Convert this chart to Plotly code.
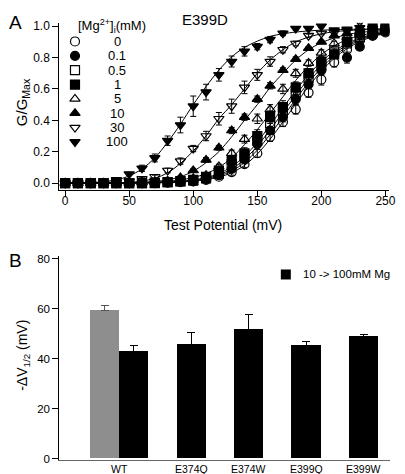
import plotly.graph_objects as go

# ---------------- Panel A data ----------------
test_potential = [0, 10, 20, 30, 40, 50, 60, 70, 80, 90, 100, 110, 120,
                  130, 140, 150, 160, 170, 180, 190, 200, 210, 220, 230, 240, 250]

mg_levels = ["0", "0.1", "0.5", "1", "5", "10", "30", "100"]
mg_symbols = ["circle-open", "circle", "square-open", "square",
              "triangle-up-open", "triangle-up", "triangle-down-open", "triangle-down"]

g_0 = [0, 0, 0, 0, 0, 0, 0, 0, 0.003, 0.005, 0.01, 0.02, 0.04, 0.07, 0.12, 0.19, 0.295,
       0.39, 0.47, 0.577, 0.66, 0.77, 0.85, 0.91, 0.94, 0.96]
g_01 = [0, 0, 0, 0, 0, 0, 0, 0, 0.005, 0.008, 0.012, 0.025, 0.05, 0.09, 0.15, 0.25, 0.335,
        0.42, 0.535, 0.63, 0.72, 0.82, 0.80, 0.87, 0.94, 0.965]
g_05 = [0, 0, 0, 0, 0, 0, 0, 0, 0.005, 0.01, 0.015, 0.03, 0.06, 0.12, 0.17, 0.27, 0.38,
        0.46, 0.57, 0.67, 0.75, 0.84, 0.89, 0.93, 0.96, 0.975]
g_1 = [0, 0, 0, 0, 0, 0, 0, 0.003, 0.006, 0.012, 0.02, 0.04, 0.08, 0.147, 0.19, 0.30, 0.42,
       0.485, 0.61, 0.70, 0.775, 0.82, 0.90, 0.955, 0.985, 0.985]
g_5 = [0, 0, 0, 0, 0, 0, 0.003, 0.006, 0.01, 0.02, 0.03, 0.05, 0.105, 0.19, 0.28, 0.41, 0.47,
       0.60, 0.70, 0.765, 0.83, 0.89, 0.93, 0.95, 0.97, 0.98]
g_10 = [0, 0, 0, 0, 0, 0.003, 0.006, 0.01, 0.015, 0.035, 0.08, 0.147, 0.225, 0.335, 0.42,
        0.535, 0.62, 0.72, 0.79, 0.86, 0.90, 0.94, 0.955, 0.96, 0.97, 0.975]
g_30 = [0, 0, 0, 0, 0.005, 0.01, 0.027, 0.04, 0.08, 0.14, 0.22, 0.30, 0.41, 0.49, 0.61,
        0.69, 0.775, 0.85, 0.89, 0.94, 0.955, 0.96, 0.97, 1.03, 0.985, 0.975]
g_100 = [0, 0, 0, 0.005, 0.02, 0.057, 0.094, 0.16, 0.27, 0.37, 0.49, 0.58, 0.69, 0.775,
         0.84, 0.87, 0.915, 0.955, 0.985, 0.985, 1.0, 0.975, 0.98, 0.99, 0.97, 0.975]

e_0 = [0, 0, 0, 0, 0, 0, 0, 0, 0.003, 0.005, 0.008, 0.01, 0.015, 0.02, 0.02, 0.025, 0.03,
       0.03, 0.03, 0.03, 0.035, 0.03, 0.025, 0.02, 0.015, 0.01]
e_01 = [0, 0, 0, 0, 0, 0, 0, 0, 0.003, 0.005, 0.008, 0.01, 0.015, 0.02, 0.02, 0.025, 0.025,
        0.03, 0.03, 0.03, 0.03, 0.025, 0.035, 0.025, 0.015, 0.01]
e_05 = [0, 0, 0, 0, 0, 0, 0, 0, 0.003, 0.005, 0.008, 0.01, 0.015, 0.02, 0.025, 0.03, 0.03,
        0.03, 0.03, 0.025, 0.025, 0.02, 0.02, 0.015, 0.01, 0.01]
e_1 = [0, 0, 0, 0, 0, 0, 0.002, 0.004, 0.005, 0.008, 0.01, 0.015, 0.02, 0.03, 0.035, 0.04,
       0.04, 0.04, 0.035, 0.03, 0.03, 0.025, 0.02, 0.015, 0.01, 0.01]
e_5 = [0, 0, 0, 0, 0, 0, 0.003, 0.005, 0.005, 0.01, 0.01, 0.01, 0.015, 0.02, 0.025, 0.03,
       0.03, 0.03, 0.025, 0.02, 0.02, 0.015, 0.01, 0.01, 0.01, 0.01]
e_10 = [0, 0, 0, 0, 0, 0.003, 0.005, 0.005, 0.01, 0.01, 0.01, 0.015, 0.015, 0.02, 0.02,
        0.02, 0.02, 0.015, 0.015, 0.01, 0.01, 0.01, 0.01, 0.01, 0.01, 0.01]
e_30 = [0, 0, 0, 0, 0.003, 0.005, 0.01, 0.01, 0.015, 0.02, 0.02, 0.03, 0.04, 0.045, 0.04,
        0.035, 0.03, 0.02, 0.015, 0.01, 0.01, 0.01, 0.01, 0.015, 0.01, 0.01]
e_100 = [0, 0, 0, 0.003, 0.005, 0.01, 0.02, 0.025, 0.03, 0.05, 0.065, 0.05, 0.04, 0.035,
         0.03, 0.02, 0.02, 0.015, 0.01, 0.01, 0.01, 0.01, 0.01, 0.01, 0.01, 0.01]

# Boltzmann fit curves at each test potential
c_0 = [0, 0, 0, 0, 0, 0, 0.001, 0.002, 0.004, 0.007, 0.012, 0.021, 0.037, 0.066, 0.112,
       0.185, 0.28, 0.39, 0.505, 0.615, 0.715, 0.795, 0.857, 0.902, 0.934, 0.954]
c_01 = [0, 0, 0, 0, 0, 0, 0.001, 0.002, 0.004, 0.008, 0.014, 0.025, 0.044, 0.078, 0.13,
        0.21, 0.31, 0.42, 0.535, 0.64, 0.735, 0.81, 0.868, 0.91, 0.94, 0.957]
c_05 = [0, 0, 0, 0, 0, 0, 0.001, 0.003, 0.005, 0.009, 0.017, 0.03, 0.052, 0.09, 0.15,
        0.235, 0.34, 0.45, 0.56, 0.665, 0.755, 0.825, 0.88, 0.918, 0.944, 0.96]
c_1 = [0, 0, 0, 0, 0, 0.001, 0.002, 0.004, 0.006, 0.01, 0.02, 0.035, 0.06, 0.105, 0.17,
       0.26, 0.37, 0.48, 0.59, 0.69, 0.775, 0.84, 0.89, 0.925, 0.948, 0.962]
c_5 = [0, 0, 0, 0, 0, 0.001, 0.003, 0.006, 0.01, 0.02, 0.035, 0.06, 0.1, 0.16, 0.245,
       0.34, 0.445, 0.55, 0.655, 0.745, 0.82, 0.875, 0.915, 0.94, 0.957, 0.967]
c_10 = [0, 0, 0, 0, 0.001, 0.002, 0.005, 0.01, 0.02, 0.04, 0.075, 0.13, 0.2, 0.295, 0.4,
        0.5, 0.61, 0.7, 0.785, 0.85, 0.895, 0.925, 0.947, 0.96, 0.968, 0.973]
c_30 = [0, 0, 0, 0.001, 0.002, 0.005, 0.012, 0.03, 0.065, 0.125, 0.205, 0.3, 0.41, 0.5,
        0.6, 0.7, 0.785, 0.85, 0.9, 0.93, 0.952, 0.965, 0.972, 0.977, 0.98, 0.982]
c_100 = [0, 0.001, 0.003, 0.008, 0.02, 0.045, 0.09, 0.16, 0.26, 0.375, 0.5, 0.615, 0.72,
         0.805, 0.865, 0.905, 0.935, 0.952, 0.963, 0.97, 0.975, 0.978, 0.98, 0.981,
         0.982, 0.982]

g_series = [g_0, g_01, g_05, g_1, g_5, g_10, g_30, g_100]
e_series = [e_0, e_01, e_05, e_1, e_5, e_10, e_30, e_100]
c_series = [c_0, c_01, c_05, c_1, c_5, c_10, c_30, c_100]

# ---------------- Panel B data ----------------
groups = ["WT", "E374Q", "E374W", "E399Q", "E399W"]
dv_10_100 = [43.1, 45.9, 51.8, 45.4, 48.8]
dv_10_100_err = [2.1, 4.5, 5.9, 1.7, 0.9]
wt_gray = [59.4]
wt_gray_err = [2.0]
legend_b_label = "10 -> 100mM Mg"

FONT = "Liberation Sans, Arial, sans-serif"
W, H = 405, 474
ROW0, ROWSTEP = 31, 14.6   # legend row layout (pixels)
MSIZE = 9


def py(p):
    return (H - p) / H


def px(p):
    return p / W


def row_of(p):
    return (p - ROW0) / ROWSTEP


fig = go.Figure()

# curves
for c in c_series:
    fig.add_trace(go.Scatter(x=test_potential, y=c, mode="lines",
                             line=dict(color="black", width=1, shape="spline", smoothing=0.8),
                             xaxis="x", yaxis="y", showlegend=False, hoverinfo="skip"))
# points
for g, e, sym in zip(g_series, e_series, mg_symbols):
    fig.add_trace(go.Scatter(x=test_potential, y=g, mode="markers",
                             marker=dict(symbol=sym, size=MSIZE, color="black",
                                         line=dict(color="black", width=1.2)),
                             error_y=dict(type="data", array=e, color="black",
                                          thickness=1, width=3),
                             xaxis="x", yaxis="y", showlegend=False))

# legend of panel A on helper axes (row index)
rows = list(range(len(mg_levels)))
for r, sym in zip(rows, mg_symbols):
    fig.add_trace(go.Scatter(x=[px(68)], y=[r], mode="markers",
                             marker=dict(symbol=sym, size=MSIZE, color="black",
                                         line=dict(color="black", width=1.2)),
                             xaxis="x3", yaxis="y3", showlegend=False, hoverinfo="skip"))
# legend key of panel B
fig.add_trace(go.Scatter(x=[px(282)], y=[row_of(268)], mode="markers",
                         marker=dict(symbol="square", size=10, color="black"),
                         xaxis="x3", yaxis="y3", showlegend=False, hoverinfo="skip"))

# bars panel B
black_pos = [i + 1 for i in range(len(groups))]
bar_w = 0.51
gray_pos = [black_pos[0] - bar_w]
fig.add_trace(go.Bar(x=gray_pos, y=wt_gray, width=bar_w,
                     marker=dict(color="#8e8e8e", line=dict(width=0)),
                     error_y=dict(type="data", symmetric=False, array=wt_gray_err, arrayminus=[0],
                                  color="#555555", thickness=1, width=4),
                     xaxis="x2", yaxis="y2", showlegend=False))
fig.add_trace(go.Bar(x=black_pos, y=dv_10_100, width=bar_w,
                     marker=dict(color="black", line=dict(width=0)),
                     error_y=dict(type="data", symmetric=False, array=dv_10_100_err,
                                  arrayminus=[0] * len(groups), color="black", thickness=1, width=4),
                     name=legend_b_label, xaxis="x2", yaxis="y2", showlegend=False))

tick_pos_b = [(gray_pos[0] + black_pos[0]) / 2] + black_pos[1:]

axis_common = dict(showgrid=False, zeroline=False, showline=True, linecolor="black",
                   linewidth=1, tickcolor="black", tickwidth=1,
                   tickfont=dict(family=FONT, size=12, color="black"))

fig.update_layout(
    width=W, height=H, margin=dict(l=0, r=0, t=0, b=0),
    paper_bgcolor="white", plot_bgcolor="rgba(0,0,0,0)",
    font=dict(family=FONT, color="black"),
    bargap=0, showlegend=False,
    xaxis=dict(domain=[px(52), px(387)], range=[-4.6, 253], anchor="y",
               tickvals=[0, 50, 100, 150, 200, 250], ticks="outside", ticklen=6,
               ticklabelstandoff=-6, **axis_common),
    yaxis=dict(domain=[py(182), py(12)], range=[-0.044, 1.022], anchor="x",
               tickvals=[0, 0.2, 0.4, 0.6, 0.8, 1.0], tickformat=".1f",
               ticks="outside", ticklen=6, **axis_common),
    xaxis2=dict(domain=[px(52), px(388)], range=[-0.3, 5.46], anchor="y2",
                tickvals=tick_pos_b, showticklabels=False, ticks="",
                showgrid=False, zeroline=False, showline=True, linecolor="#666666", linewidth=1),
    yaxis2=dict(domain=[py(457), py(249.7)], range=[-0.6, 81], anchor="x2",
                tickvals=[0, 20, 40, 60, 80], ticks="outside", ticklen=6,
                showgrid=False, zeroline=False, showline=True, linecolor="black", linewidth=1,
                tickcolor="black", tickfont=dict(family=FONT, size=11.5, color="black")),
    xaxis3=dict(domain=[0, 1], range=[0, 1], anchor="y3", visible=False, fixedrange=True),
    yaxis3=dict(domain=[0, 1], range=[row_of(H), row_of(0)], anchor="x3",
                visible=False, fixedrange=True),
)

ann = []
for r, lab in zip(rows, mg_levels):
    ann.append(dict(x=px(111), y=r, xref="x3", yref="y3", text=lab, showarrow=False,
                    xanchor="center", yanchor="middle", font=dict(size=13)))
ann.append(dict(x=px(106), y=row_of(15), xref="x3", yref="y3",
                text="[Mg<sup>2+</sup>]<sub>i</sub>(mM)", showarrow=False,
                xanchor="center", yanchor="middle", font=dict(size=13)))
ann.append(dict(x=px(297), y=row_of(268), xref="x3", yref="y3", text=legend_b_label,
                showarrow=False, xanchor="left", yanchor="middle", font=dict(size=11.5)))
for tp, lab in zip(tick_pos_b, groups):
    ann.append(dict(x=tp, y=py(466), xref="x2", yref="paper", text=lab, showarrow=False,
                    xanchor="center", yanchor="middle", font=dict(size=10.5)))
ann += [
    dict(x=px(8), y=py(12), xref="paper", yref="paper", text="A", showarrow=False,
         xanchor="center", yanchor="middle", font=dict(size=19)),
    dict(x=px(8), y=py(254), xref="paper", yref="paper", text="B", showarrow=False,
         xanchor="center", yanchor="middle", font=dict(size=19)),
    dict(x=px(200), y=py(9), xref="paper", yref="paper", text="E399D", showarrow=False,
         xanchor="center", yanchor="middle", font=dict(size=15)),
    dict(x=px(15), y=py(93), xref="paper", yref="paper", text="G/G<sub>Max</sub>",
         showarrow=False, textangle=-90, xanchor="center", yanchor="middle", font=dict(size=15)),
    dict(x=px(218), y=py(218), xref="paper", yref="paper", text="Test Potential (mV)",
         showarrow=False, xanchor="center", yanchor="middle", font=dict(size=14)),
    dict(x=px(15), y=py(350), xref="paper", yref="paper", text="-ΔV<sub>1/2</sub> (mV)",
         showarrow=False, textangle=-90, xanchor="center", yanchor="middle", font=dict(size=14)),
]
fig.update_layout(annotations=ann)

fig.write_html("out.html")
